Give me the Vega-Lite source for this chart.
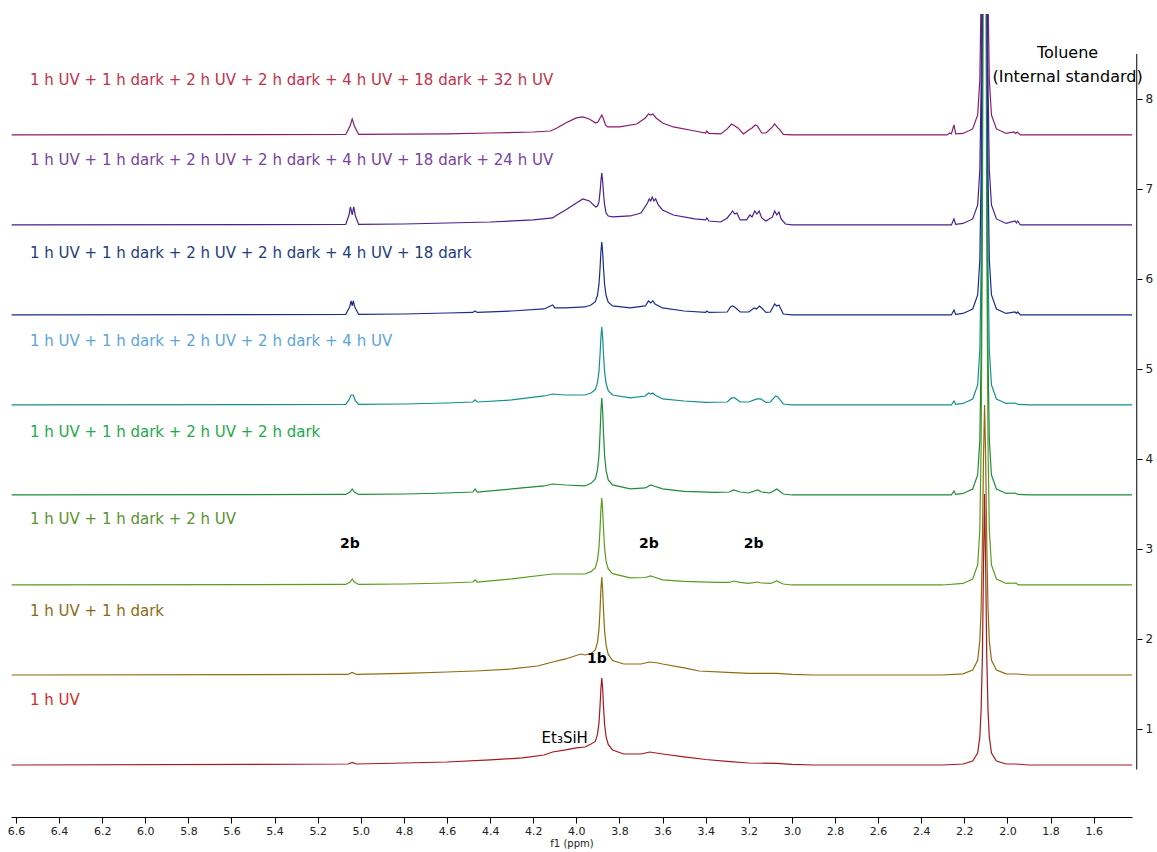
{
  "$schema": "https://vega.github.io/schema/vega-lite/v6.json",
  "width": 1121,
  "height": 803,
  "autosize": "none",
  "padding": {"left": 11, "top": 14, "right": 25, "bottom": 35},
  "background": "white",
  "config": {"view": {"stroke": null}, "font": "DejaVu Sans"},
  "datasets": {
    "spectra": [
      {"s":"1","x":6.62,"y":0.6},{"s":"1","x":5.5,"y":0.606},{"s":"1","x":5.06,"y":0.611},{"s":"1","x":5.04,"y":0.628},{"s":"1","x":5.02,"y":0.611},{"s":"1","x":4.8,"y":0.622},{"s":"1","x":4.6,"y":0.633},{"s":"1","x":4.4,"y":0.656},{"s":"1","x":4.25,"y":0.678},{"s":"1","x":4.15,"y":0.711},{"s":"1","x":4.11,"y":0.744},{"s":"1","x":4.05,"y":0.767},{"s":"1","x":4.0,"y":0.789},{"s":"1","x":3.96,"y":0.8},{"s":"1","x":3.932,"y":0.833},{"s":"1","x":3.912,"y":0.862},{"s":"1","x":3.902,"y":0.94},{"s":"1","x":3.895,"y":1.067},{"s":"1","x":3.89,"y":1.261},{"s":"1","x":3.886,"y":1.45},{"s":"1","x":3.882,"y":1.567},{"s":"1","x":3.878,"y":1.45},{"s":"1","x":3.874,"y":1.25},{"s":"1","x":3.869,"y":1.05},{"s":"1","x":3.862,"y":0.911},{"s":"1","x":3.852,"y":0.829},{"s":"1","x":3.832,"y":0.767},{"s":"1","x":3.78,"y":0.722},{"s":"1","x":3.7,"y":0.722},{"s":"1","x":3.66,"y":0.744},{"s":"1","x":3.6,"y":0.722},{"s":"1","x":3.5,"y":0.689},{"s":"1","x":3.4,"y":0.661},{"s":"1","x":3.3,"y":0.639},{"s":"1","x":3.2,"y":0.622},{"s":"1","x":3.07,"y":0.617},{"s":"1","x":3.0,"y":0.606},{"s":"1","x":2.9,"y":0.6},{"s":"1","x":2.3,"y":0.6},
      {"s":"1","x":2.206,"y":0.611},{"s":"1","x":2.161,"y":0.644},{"s":"1","x":2.138,"y":0.733},{"s":"1","x":2.128,"y":0.911},{"s":"1","x":2.122,"y":1.211},{"s":"1","x":2.116,"y":1.822},{"s":"1","x":2.111,"y":2.822},{"s":"1","x":2.106,"y":3.611},{"s":"1","x":2.101,"y":2.822},{"s":"1","x":2.096,"y":1.822},{"s":"1","x":2.09,"y":1.211},{"s":"1","x":2.084,"y":0.911},{"s":"1","x":2.074,"y":0.733},{"s":"1","x":2.051,"y":0.644},{"s":"1","x":2.006,"y":0.611},{"s":"1","x":1.96,"y":0.611},{"s":"1","x":1.9,"y":0.6},{"s":"1","x":1.422,"y":0.6},

      {"s":"2","x":6.62,"y":1.6},{"s":"2","x":5.06,"y":1.606},{"s":"2","x":5.04,"y":1.628},{"s":"2","x":5.02,"y":1.606},{"s":"2","x":4.8,"y":1.617},{"s":"2","x":4.6,"y":1.633},{"s":"2","x":4.47,"y":1.644},{"s":"2","x":4.3,"y":1.667},{"s":"2","x":4.18,"y":1.7},{"s":"2","x":4.11,"y":1.744},{"s":"2","x":4.05,"y":1.778},{"s":"2","x":3.98,"y":1.833},{"s":"2","x":3.96,"y":1.822},{"s":"2","x":3.932,"y":1.838},{"s":"2","x":3.912,"y":1.878},{"s":"2","x":3.902,"y":1.962},{"s":"2","x":3.895,"y":2.11},{"s":"2","x":3.89,"y":2.329},{"s":"2","x":3.886,"y":2.554},{"s":"2","x":3.882,"y":2.689},{"s":"2","x":3.878,"y":2.549},{"s":"2","x":3.874,"y":2.318},{"s":"2","x":3.869,"y":2.088},{"s":"2","x":3.862,"y":1.929},{"s":"2","x":3.852,"y":1.828},{"s":"2","x":3.832,"y":1.76},{"s":"2","x":3.78,"y":1.722},{"s":"2","x":3.7,"y":1.722},{"s":"2","x":3.66,"y":1.744},{"s":"2","x":3.62,"y":1.733},{"s":"2","x":3.6,"y":1.722},{"s":"2","x":3.5,"y":1.678},{"s":"2","x":3.43,"y":1.644},{"s":"2","x":3.3,"y":1.628},{"s":"2","x":3.2,"y":1.617},{"s":"2","x":3.07,"y":1.617},{"s":"2","x":3.0,"y":1.606},{"s":"2","x":2.9,"y":1.6},{"s":"2","x":2.3,"y":1.6},
      {"s":"2","x":2.206,"y":1.613},{"s":"2","x":2.161,"y":1.654},{"s":"2","x":2.138,"y":1.762},{"s":"2","x":2.128,"y":1.978},{"s":"2","x":2.122,"y":2.344},{"s":"2","x":2.116,"y":3.089},{"s":"2","x":2.111,"y":4.011},{"s":"2","x":2.106,"y":4.6},{"s":"2","x":2.101,"y":4.011},{"s":"2","x":2.096,"y":3.089},{"s":"2","x":2.09,"y":2.344},{"s":"2","x":2.084,"y":1.978},{"s":"2","x":2.074,"y":1.762},{"s":"2","x":2.051,"y":1.654},{"s":"2","x":2.006,"y":1.613},{"s":"2","x":1.96,"y":1.611},{"s":"2","x":1.9,"y":1.6},{"s":"2","x":1.422,"y":1.6},

      {"s":"3","x":6.62,"y":2.6},{"s":"3","x":5.07,"y":2.606},{"s":"3","x":5.05,"y":2.633},{"s":"3","x":5.04,"y":2.667},{"s":"3","x":5.03,"y":2.633},{"s":"3","x":5.01,"y":2.606},{"s":"3","x":4.8,"y":2.611},{"s":"3","x":4.6,"y":2.622},{"s":"3","x":4.48,"y":2.633},{"s":"3","x":4.47,"y":2.656},{"s":"3","x":4.46,"y":2.633},{"s":"3","x":4.3,"y":2.667},{"s":"3","x":4.15,"y":2.711},{"s":"3","x":4.11,"y":2.722},{"s":"3","x":4.05,"y":2.722},{"s":"3","x":3.96,"y":2.722},{"s":"3","x":3.932,"y":2.748},{"s":"3","x":3.912,"y":2.79},{"s":"3","x":3.902,"y":2.874},{"s":"3","x":3.895,"y":3.018},{"s":"3","x":3.89,"y":3.229},{"s":"3","x":3.886,"y":3.44},{"s":"3","x":3.882,"y":3.567},{"s":"3","x":3.878,"y":3.434},{"s":"3","x":3.874,"y":3.223},{"s":"3","x":3.869,"y":3.007},{"s":"3","x":3.862,"y":2.863},{"s":"3","x":3.852,"y":2.779},{"s":"3","x":3.832,"y":2.726},{"s":"3","x":3.75,"y":2.678},{"s":"3","x":3.68,"y":2.683},{"s":"3","x":3.655,"y":2.7},{"s":"3","x":3.64,"y":2.689},{"s":"3","x":3.6,"y":2.656},{"s":"3","x":3.5,"y":2.639},{"s":"3","x":3.35,"y":2.628},{"s":"3","x":3.29,"y":2.628},{"s":"3","x":3.27,"y":2.644},{"s":"3","x":3.24,"y":2.628},{"s":"3","x":3.2,"y":2.617},{"s":"3","x":3.16,"y":2.633},{"s":"3","x":3.14,"y":2.622},{"s":"3","x":3.1,"y":2.617},{"s":"3","x":3.07,"y":2.644},{"s":"3","x":3.04,"y":2.611},{"s":"3","x":3.0,"y":2.6},{"s":"3","x":2.3,"y":2.6},
      {"s":"3","x":2.206,"y":2.617},{"s":"3","x":2.161,"y":2.667},{"s":"3","x":2.138,"y":2.822},{"s":"3","x":2.128,"y":3.211},{"s":"3","x":2.122,"y":4.156},{"s":"3","x":2.116,"y":6.489},{"s":"3","x":2.111,"y":10.933},{"s":"3","x":2.106,"y":14.822},{"s":"3","x":2.101,"y":10.933},{"s":"3","x":2.096,"y":6.489},{"s":"3","x":2.09,"y":4.156},{"s":"3","x":2.084,"y":3.211},{"s":"3","x":2.074,"y":2.822},{"s":"3","x":2.051,"y":2.667},{"s":"3","x":2.006,"y":2.617},{"s":"3","x":1.96,"y":2.622},{"s":"3","x":1.95,"y":2.6},{"s":"3","x":1.422,"y":2.6},

      {"s":"4","x":6.62,"y":3.6},{"s":"4","x":5.07,"y":3.606},{"s":"4","x":5.05,"y":3.633},{"s":"4","x":5.04,"y":3.667},{"s":"4","x":5.03,"y":3.633},{"s":"4","x":5.01,"y":3.606},{"s":"4","x":4.8,"y":3.611},{"s":"4","x":4.6,"y":3.622},{"s":"4","x":4.48,"y":3.633},{"s":"4","x":4.47,"y":3.667},{"s":"4","x":4.46,"y":3.633},{"s":"4","x":4.3,"y":3.667},{"s":"4","x":4.15,"y":3.7},{"s":"4","x":4.11,"y":3.722},{"s":"4","x":4.05,"y":3.711},{"s":"4","x":3.96,"y":3.7},{"s":"4","x":3.932,"y":3.729},{"s":"4","x":3.912,"y":3.778},{"s":"4","x":3.902,"y":3.876},{"s":"4","x":3.895,"y":4.042},{"s":"4","x":3.89,"y":4.287},{"s":"4","x":3.886,"y":4.531},{"s":"4","x":3.882,"y":4.678},{"s":"4","x":3.878,"y":4.531},{"s":"4","x":3.874,"y":4.287},{"s":"4","x":3.869,"y":4.037},{"s":"4","x":3.862,"y":3.87},{"s":"4","x":3.852,"y":3.767},{"s":"4","x":3.832,"y":3.712},{"s":"4","x":3.75,"y":3.667},{"s":"4","x":3.68,"y":3.678},{"s":"4","x":3.655,"y":3.711},{"s":"4","x":3.64,"y":3.7},{"s":"4","x":3.6,"y":3.667},{"s":"4","x":3.5,"y":3.639},{"s":"4","x":3.35,"y":3.628},{"s":"4","x":3.29,"y":3.633},{"s":"4","x":3.27,"y":3.656},{"s":"4","x":3.24,"y":3.633},{"s":"4","x":3.2,"y":3.622},{"s":"4","x":3.16,"y":3.656},{"s":"4","x":3.14,"y":3.633},{"s":"4","x":3.1,"y":3.622},{"s":"4","x":3.07,"y":3.667},{"s":"4","x":3.04,"y":3.611},{"s":"4","x":3.0,"y":3.6},{"s":"4","x":2.26,"y":3.6},{"s":"4","x":2.248,"y":3.644},{"s":"4","x":2.24,"y":3.606},
      {"s":"4","x":2.206,"y":3.617},{"s":"4","x":2.161,"y":3.667},{"s":"4","x":2.138,"y":3.822},{"s":"4","x":2.128,"y":4.211},{"s":"4","x":2.122,"y":5.156},{"s":"4","x":2.116,"y":7.489},{"s":"4","x":2.111,"y":11.933},{"s":"4","x":2.106,"y":15.822},{"s":"4","x":2.101,"y":11.933},{"s":"4","x":2.096,"y":7.489},{"s":"4","x":2.09,"y":5.156},{"s":"4","x":2.084,"y":4.211},{"s":"4","x":2.074,"y":3.822},{"s":"4","x":2.051,"y":3.667},{"s":"4","x":2.006,"y":3.617},{"s":"4","x":1.965,"y":3.622},{"s":"4","x":1.95,"y":3.606},{"s":"4","x":1.9,"y":3.6},{"s":"4","x":1.422,"y":3.6},

      {"s":"5","x":6.62,"y":4.6},{"s":"5","x":5.07,"y":4.606},{"s":"5","x":5.055,"y":4.656},{"s":"5","x":5.045,"y":4.711},{"s":"5","x":5.035,"y":4.711},{"s":"5","x":5.025,"y":4.644},{"s":"5","x":5.01,"y":4.606},{"s":"5","x":4.8,"y":4.611},{"s":"5","x":4.6,"y":4.622},{"s":"5","x":4.48,"y":4.633},{"s":"5","x":4.47,"y":4.656},{"s":"5","x":4.46,"y":4.633},{"s":"5","x":4.3,"y":4.656},{"s":"5","x":4.15,"y":4.7},{"s":"5","x":4.11,"y":4.722},{"s":"5","x":4.05,"y":4.711},{"s":"5","x":3.96,"y":4.711},{"s":"5","x":3.932,"y":4.733},{"s":"5","x":3.912,"y":4.771},{"s":"5","x":3.902,"y":4.847},{"s":"5","x":3.895,"y":4.976},{"s":"5","x":3.89,"y":5.164},{"s":"5","x":3.886,"y":5.353},{"s":"5","x":3.882,"y":5.467},{"s":"5","x":3.878,"y":5.348},{"s":"5","x":3.874,"y":5.159},{"s":"5","x":3.869,"y":4.97},{"s":"5","x":3.862,"y":4.841},{"s":"5","x":3.852,"y":4.76},{"s":"5","x":3.832,"y":4.711},{"s":"5","x":3.75,"y":4.678},{"s":"5","x":3.68,"y":4.7},{"s":"5","x":3.665,"y":4.733},{"s":"5","x":3.655,"y":4.722},{"s":"5","x":3.645,"y":4.733},{"s":"5","x":3.635,"y":4.711},{"s":"5","x":3.6,"y":4.667},{"s":"5","x":3.5,"y":4.644},{"s":"5","x":3.4,"y":4.628},{"s":"5","x":3.3,"y":4.633},{"s":"5","x":3.28,"y":4.678},{"s":"5","x":3.265,"y":4.678},{"s":"5","x":3.24,"y":4.633},{"s":"5","x":3.2,"y":4.633},{"s":"5","x":3.175,"y":4.656},{"s":"5","x":3.16,"y":4.667},{"s":"5","x":3.145,"y":4.667},{"s":"5","x":3.12,"y":4.628},{"s":"5","x":3.1,"y":4.633},{"s":"5","x":3.075,"y":4.7},{"s":"5","x":3.065,"y":4.689},{"s":"5","x":3.04,"y":4.611},{"s":"5","x":3.0,"y":4.6},{"s":"5","x":2.26,"y":4.6},{"s":"5","x":2.248,"y":4.644},{"s":"5","x":2.24,"y":4.606},
      {"s":"5","x":2.206,"y":4.617},{"s":"5","x":2.161,"y":4.667},{"s":"5","x":2.138,"y":4.822},{"s":"5","x":2.128,"y":5.211},{"s":"5","x":2.122,"y":6.156},{"s":"5","x":2.116,"y":8.489},{"s":"5","x":2.111,"y":12.933},{"s":"5","x":2.106,"y":16.822},{"s":"5","x":2.101,"y":12.933},{"s":"5","x":2.096,"y":8.489},{"s":"5","x":2.09,"y":6.156},{"s":"5","x":2.084,"y":5.211},{"s":"5","x":2.074,"y":4.822},{"s":"5","x":2.051,"y":4.667},{"s":"5","x":2.006,"y":4.617},{"s":"5","x":1.965,"y":4.622},{"s":"5","x":1.95,"y":4.606},{"s":"5","x":1.9,"y":4.6},{"s":"5","x":1.422,"y":4.6},

      {"s":"6","x":6.62,"y":5.6},{"s":"6","x":5.07,"y":5.606},{"s":"6","x":5.052,"y":5.689},{"s":"6","x":5.045,"y":5.756},{"s":"6","x":5.04,"y":5.7},{"s":"6","x":5.035,"y":5.756},{"s":"6","x":5.028,"y":5.689},{"s":"6","x":5.01,"y":5.606},{"s":"6","x":4.8,"y":5.611},{"s":"6","x":4.6,"y":5.622},{"s":"6","x":4.48,"y":5.628},{"s":"6","x":4.47,"y":5.644},{"s":"6","x":4.46,"y":5.628},{"s":"6","x":4.3,"y":5.644},{"s":"6","x":4.15,"y":5.667},{"s":"6","x":4.11,"y":5.711},{"s":"6","x":4.1,"y":5.678},{"s":"6","x":4.05,"y":5.678},{"s":"6","x":3.96,"y":5.689},{"s":"6","x":3.932,"y":5.711},{"s":"6","x":3.912,"y":5.747},{"s":"6","x":3.902,"y":5.819},{"s":"6","x":3.895,"y":5.942},{"s":"6","x":3.89,"y":6.122},{"s":"6","x":3.886,"y":6.303},{"s":"6","x":3.882,"y":6.411},{"s":"6","x":3.878,"y":6.3},{"s":"6","x":3.874,"y":6.119},{"s":"6","x":3.869,"y":5.939},{"s":"6","x":3.862,"y":5.816},{"s":"6","x":3.852,"y":5.741},{"s":"6","x":3.832,"y":5.7},{"s":"6","x":3.75,"y":5.678},{"s":"6","x":3.68,"y":5.7},{"s":"6","x":3.665,"y":5.756},{"s":"6","x":3.655,"y":5.733},{"s":"6","x":3.645,"y":5.756},{"s":"6","x":3.635,"y":5.722},{"s":"6","x":3.6,"y":5.678},{"s":"6","x":3.5,"y":5.644},{"s":"6","x":3.4,"y":5.628},{"s":"6","x":3.395,"y":5.644},{"s":"6","x":3.385,"y":5.628},{"s":"6","x":3.3,"y":5.633},{"s":"6","x":3.285,"y":5.689},{"s":"6","x":3.275,"y":5.7},{"s":"6","x":3.26,"y":5.678},{"s":"6","x":3.24,"y":5.633},{"s":"6","x":3.2,"y":5.633},{"s":"6","x":3.175,"y":5.678},{"s":"6","x":3.165,"y":5.667},{"s":"6","x":3.15,"y":5.7},{"s":"6","x":3.14,"y":5.678},{"s":"6","x":3.12,"y":5.628},{"s":"6","x":3.1,"y":5.633},{"s":"6","x":3.08,"y":5.722},{"s":"6","x":3.07,"y":5.7},{"s":"6","x":3.06,"y":5.711},{"s":"6","x":3.04,"y":5.611},{"s":"6","x":3.0,"y":5.6},{"s":"6","x":2.26,"y":5.6},{"s":"6","x":2.248,"y":5.656},{"s":"6","x":2.24,"y":5.606},
      {"s":"6","x":2.206,"y":5.617},{"s":"6","x":2.161,"y":5.667},{"s":"6","x":2.138,"y":5.822},{"s":"6","x":2.128,"y":6.211},{"s":"6","x":2.122,"y":7.156},{"s":"6","x":2.116,"y":9.489},{"s":"6","x":2.111,"y":13.933},{"s":"6","x":2.106,"y":17.822},{"s":"6","x":2.101,"y":13.933},{"s":"6","x":2.096,"y":9.489},{"s":"6","x":2.09,"y":7.156},{"s":"6","x":2.084,"y":6.211},{"s":"6","x":2.074,"y":5.822},{"s":"6","x":2.051,"y":5.667},{"s":"6","x":2.006,"y":5.617},{"s":"6","x":1.965,"y":5.633},{"s":"6","x":1.958,"y":5.617},{"s":"6","x":1.952,"y":5.633},{"s":"6","x":1.94,"y":5.6},{"s":"6","x":1.422,"y":5.6},

      {"s":"7","x":6.62,"y":6.6},{"s":"7","x":5.07,"y":6.606},{"s":"7","x":5.055,"y":6.711},{"s":"7","x":5.048,"y":6.8},{"s":"7","x":5.04,"y":6.711},{"s":"7","x":5.033,"y":6.8},{"s":"7","x":5.025,"y":6.7},{"s":"7","x":5.01,"y":6.606},{"s":"7","x":4.8,"y":6.611},{"s":"7","x":4.6,"y":6.622},{"s":"7","x":4.4,"y":6.633},{"s":"7","x":4.2,"y":6.656},{"s":"7","x":4.11,"y":6.678},{"s":"7","x":4.09,"y":6.711},{"s":"7","x":4.05,"y":6.767},{"s":"7","x":4.0,"y":6.844},{"s":"7","x":3.97,"y":6.889},{"s":"7","x":3.94,"y":6.867},{"s":"7","x":3.91,"y":6.8},{"s":"7","x":3.902,"y":6.811},{"s":"7","x":3.895,"y":6.856},{"s":"7","x":3.89,"y":6.967},{"s":"7","x":3.886,"y":7.089},{"s":"7","x":3.882,"y":7.178},{"s":"7","x":3.878,"y":7.089},{"s":"7","x":3.874,"y":6.956},{"s":"7","x":3.869,"y":6.822},{"s":"7","x":3.862,"y":6.733},{"s":"7","x":3.852,"y":6.7},{"s":"7","x":3.832,"y":6.689},{"s":"7","x":3.75,"y":6.7},{"s":"7","x":3.7,"y":6.733},{"s":"7","x":3.67,"y":6.844},{"s":"7","x":3.662,"y":6.889},{"s":"7","x":3.655,"y":6.867},{"s":"7","x":3.648,"y":6.911},{"s":"7","x":3.64,"y":6.867},{"s":"7","x":3.632,"y":6.889},{"s":"7","x":3.62,"y":6.822},{"s":"7","x":3.6,"y":6.767},{"s":"7","x":3.55,"y":6.711},{"s":"7","x":3.45,"y":6.667},{"s":"7","x":3.4,"y":6.656},{"s":"7","x":3.395,"y":6.678},{"s":"7","x":3.385,"y":6.644},{"s":"7","x":3.33,"y":6.633},{"s":"7","x":3.3,"y":6.678},{"s":"7","x":3.285,"y":6.722},{"s":"7","x":3.275,"y":6.756},{"s":"7","x":3.265,"y":6.722},{"s":"7","x":3.255,"y":6.733},{"s":"7","x":3.24,"y":6.656},{"s":"7","x":3.21,"y":6.656},{"s":"7","x":3.195,"y":6.711},{"s":"7","x":3.185,"y":6.689},{"s":"7","x":3.172,"y":6.756},{"s":"7","x":3.162,"y":6.722},{"s":"7","x":3.152,"y":6.756},{"s":"7","x":3.14,"y":6.678},{"s":"7","x":3.12,"y":6.644},{"s":"7","x":3.09,"y":6.689},{"s":"7","x":3.08,"y":6.756},{"s":"7","x":3.07,"y":6.711},{"s":"7","x":3.06,"y":6.744},{"s":"7","x":3.05,"y":6.667},{"s":"7","x":3.03,"y":6.611},{"s":"7","x":3.0,"y":6.6},{"s":"7","x":2.26,"y":6.6},{"s":"7","x":2.248,"y":6.667},{"s":"7","x":2.24,"y":6.606},
      {"s":"7","x":2.206,"y":6.617},{"s":"7","x":2.161,"y":6.667},{"s":"7","x":2.138,"y":6.822},{"s":"7","x":2.128,"y":7.211},{"s":"7","x":2.122,"y":8.156},{"s":"7","x":2.116,"y":10.489},{"s":"7","x":2.111,"y":14.933},{"s":"7","x":2.106,"y":18.822},{"s":"7","x":2.101,"y":14.933},{"s":"7","x":2.096,"y":10.489},{"s":"7","x":2.09,"y":8.156},{"s":"7","x":2.084,"y":7.211},{"s":"7","x":2.074,"y":6.822},{"s":"7","x":2.051,"y":6.667},{"s":"7","x":2.006,"y":6.617},{"s":"7","x":1.965,"y":6.644},{"s":"7","x":1.958,"y":6.622},{"s":"7","x":1.952,"y":6.644},{"s":"7","x":1.94,"y":6.6},{"s":"7","x":1.422,"y":6.6},

      {"s":"8","x":6.62,"y":7.6},{"s":"8","x":5.07,"y":7.606},{"s":"8","x":5.05,"y":7.7},{"s":"8","x":5.04,"y":7.778},{"s":"8","x":5.03,"y":7.7},{"s":"8","x":5.01,"y":7.606},{"s":"8","x":4.6,"y":7.611},{"s":"8","x":4.4,"y":7.622},{"s":"8","x":4.2,"y":7.633},{"s":"8","x":4.12,"y":7.644},{"s":"8","x":4.09,"y":7.678},{"s":"8","x":4.05,"y":7.733},{"s":"8","x":4.0,"y":7.789},{"s":"8","x":3.97,"y":7.8},{"s":"8","x":3.94,"y":7.778},{"s":"8","x":3.91,"y":7.733},{"s":"8","x":3.9,"y":7.744},{"s":"8","x":3.89,"y":7.789},{"s":"8","x":3.882,"y":7.822},{"s":"8","x":3.874,"y":7.778},{"s":"8","x":3.865,"y":7.711},{"s":"8","x":3.855,"y":7.689},{"s":"8","x":3.8,"y":7.689},{"s":"8","x":3.72,"y":7.722},{"s":"8","x":3.68,"y":7.789},{"s":"8","x":3.665,"y":7.833},{"s":"8","x":3.655,"y":7.822},{"s":"8","x":3.645,"y":7.833},{"s":"8","x":3.63,"y":7.789},{"s":"8","x":3.6,"y":7.733},{"s":"8","x":3.55,"y":7.689},{"s":"8","x":3.45,"y":7.644},{"s":"8","x":3.4,"y":7.622},{"s":"8","x":3.395,"y":7.644},{"s":"8","x":3.385,"y":7.617},{"s":"8","x":3.33,"y":7.611},{"s":"8","x":3.3,"y":7.667},{"s":"8","x":3.28,"y":7.722},{"s":"8","x":3.265,"y":7.7},{"s":"8","x":3.25,"y":7.678},{"s":"8","x":3.225,"y":7.611},{"s":"8","x":3.2,"y":7.656},{"s":"8","x":3.185,"y":7.678},{"s":"8","x":3.17,"y":7.711},{"s":"8","x":3.16,"y":7.7},{"s":"8","x":3.14,"y":7.622},{"s":"8","x":3.12,"y":7.622},{"s":"8","x":3.09,"y":7.689},{"s":"8","x":3.08,"y":7.722},{"s":"8","x":3.065,"y":7.678},{"s":"8","x":3.055,"y":7.656},{"s":"8","x":3.04,"y":7.606},{"s":"8","x":3.0,"y":7.6},{"s":"8","x":2.28,"y":7.6},{"s":"8","x":2.268,"y":7.622},{"s":"8","x":2.26,"y":7.611},{"s":"8","x":2.248,"y":7.711},{"s":"8","x":2.24,"y":7.611},
      {"s":"8","x":2.206,"y":7.617},{"s":"8","x":2.161,"y":7.667},{"s":"8","x":2.138,"y":7.822},{"s":"8","x":2.128,"y":8.211},{"s":"8","x":2.122,"y":9.156},{"s":"8","x":2.116,"y":11.489},{"s":"8","x":2.111,"y":15.933},{"s":"8","x":2.106,"y":19.822},{"s":"8","x":2.101,"y":15.933},{"s":"8","x":2.096,"y":11.489},{"s":"8","x":2.09,"y":9.156},{"s":"8","x":2.084,"y":8.211},{"s":"8","x":2.074,"y":7.822},{"s":"8","x":2.051,"y":7.667},{"s":"8","x":2.006,"y":7.617},{"s":"8","x":1.97,"y":7.633},{"s":"8","x":1.962,"y":7.617},{"s":"8","x":1.955,"y":7.633},{"s":"8","x":1.94,"y":7.6},{"s":"8","x":1.422,"y":7.6}
    ],
    "yaxisline": [
      {"x": 1.4, "y": 0.55, "y2": 8.5}
    ],
    "labels": [
      {"s":"8","t":"1 h UV + 1 h dark + 2 h UV + 2 h dark + 4 h UV + 18 dark + 32 h UV","x":6.535,"y":8.211},
      {"s":"7","t":"1 h UV + 1 h dark + 2 h UV + 2 h dark + 4 h UV + 18 dark + 24 h UV","x":6.535,"y":7.322},
      {"s":"6","t":"1 h UV + 1 h dark + 2 h UV + 2 h dark + 4 h UV + 18 dark","x":6.535,"y":6.289},
      {"s":"5","t":"1 h UV + 1 h dark + 2 h UV + 2 h dark + 4 h UV","x":6.535,"y":5.311},
      {"s":"4","t":"1 h UV + 1 h dark + 2 h UV + 2 h dark","x":6.535,"y":4.3},
      {"s":"3","t":"1 h UV + 1 h dark + 2 h UV","x":6.535,"y":3.333},
      {"s":"2","t":"1 h UV + 1 h dark","x":6.535,"y":2.311},
      {"s":"1","t":"1 h UV","x":6.535,"y":1.322}
    ],
    "bold": [
      {"t":"2b","x":5.051,"y":3.056},
      {"t":"2b","x":3.664,"y":3.056},
      {"t":"2b","x":3.177,"y":3.056},
      {"t":"1b","x":3.905,"y":1.778}
    ],
    "et": [
      {"t":"Et₃SiH","x":4.054,"y":0.9}
    ],
    "tol": [
      {"t":"Toluene","x":1.721,"y":8.511},
      {"t":"(Internal standard)","x":1.721,"y":8.244}
    ]
  },
  "layer": [
    {
      "data": {"name": "spectra"},
      "mark": {"type": "line", "strokeWidth": 1.2, "clip": true},
      "encoding": {
        "x": {
          "field": "x", "type": "quantitative",
          "scale": {"domain": [6.623, 1.422], "nice": false, "zero": false},
          "axis": {
            "values": [1.5,1.6,1.7,1.8,1.9,2.0,2.1,2.2,2.3,2.4,2.5,2.6,2.7,2.8,2.9,3.0,3.1,3.2,3.3,3.4,3.5,3.6,3.7,3.8,3.9,4.0,4.1,4.2,4.3,4.4,4.5,4.6,4.7,4.8,4.9,5.0,5.1,5.2,5.3,5.4,5.5,5.6,5.7,5.8,5.9,6.0,6.1,6.2,6.3,6.4,6.5,6.6],
            "labelExpr": "round(datum.value*10)%2==0 ? format(datum.value,'.1f') : ''",
            "tickSize": {"condition": {"test": "round(datum.value*10)%2==0", "value": 6}, "value": 3},
            "title": "f1 (ppm)",
            "titleFontSize": 10,
            "titleFontWeight": "normal",
            "titleColor": "#222",
            "titlePadding": 2,
            "labelFontSize": 11,
            "labelPadding": 2,
            "labelColor": "#222",
            "labelFlush": false,
            "labelOverlap": false,
            "grid": false,
            "domainColor": "#000",
            "tickColor": "#000"
          }
        },
        "y": {
          "field": "y", "type": "quantitative",
          "scale": {"domain": [0.022, 8.944], "nice": false, "zero": false},
          "axis": {
            "orient": "right",
            "values": [1,2,3,4,5,6,7,8],
            "format": "d",
            "offset": 5,
            "domain": false,
            "tickSize": 5,
            "tickColor": "#000",
            "labelPadding": 3,
            "labelFontSize": 12,
            "labelColor": "#222",
            "title": null,
            "grid": false
          }
        },
        "color": {
          "field": "s", "type": "nominal",
          "scale": {"domain": ["1","2","3","4","5","6","7","8"], "range": ["#a3191e","#8d6b0f","#5c9a1e","#1f8b3a","#139089","#1a2b8c","#48218f","#8a1a6c"]},
          "legend": null
        }
      }
    },
    {
      "data": {"name": "yaxisline"},
      "mark": {"type": "rule", "color": "#000", "strokeWidth": 1, "clip": false},
      "encoding": {
        "x": {"field": "x", "type": "quantitative"},
        "y": {"field": "y", "type": "quantitative"},
        "y2": {"field": "y2"}
      }
    },
    {
      "data": {"name": "labels"},
      "mark": {"type": "text", "align": "left", "baseline": "middle", "fontSize": 15, "font": "DejaVu Sans"},
      "encoding": {
        "x": {"field": "x", "type": "quantitative"},
        "y": {"field": "y", "type": "quantitative"},
        "text": {"field": "t"},
        "color": {
          "field": "s", "type": "nominal",
          "scale": {"domain": ["1","2","3","4","5","6","7","8"], "range": ["#cf2f2a","#8c6a12","#5b9231","#22aa4c","#5ba5da","#1d3c7e","#7a3f9f","#c2304c"]},
          "legend": null
        }
      }
    },
    {
      "data": {"name": "bold"},
      "mark": {"type": "text", "align": "center", "baseline": "middle", "fontSize": 14, "fontWeight": "bold", "color": "#000", "font": "DejaVu Sans"},
      "encoding": {
        "x": {"field": "x", "type": "quantitative"},
        "y": {"field": "y", "type": "quantitative"},
        "text": {"field": "t"}
      }
    },
    {
      "data": {"name": "et"},
      "mark": {"type": "text", "align": "center", "baseline": "middle", "fontSize": 15, "color": "#000", "font": "DejaVu Sans"},
      "encoding": {
        "x": {"field": "x", "type": "quantitative"},
        "y": {"field": "y", "type": "quantitative"},
        "text": {"field": "t"}
      }
    },
    {
      "data": {"name": "tol"},
      "mark": {"type": "text", "align": "center", "baseline": "middle", "fontSize": 16, "color": "#000", "font": "DejaVu Sans"},
      "encoding": {
        "x": {"field": "x", "type": "quantitative"},
        "y": {"field": "y", "type": "quantitative"},
        "text": {"field": "t"}
      }
    }
  ],
  "resolve": {"scale": {"color": "independent"}}
}
